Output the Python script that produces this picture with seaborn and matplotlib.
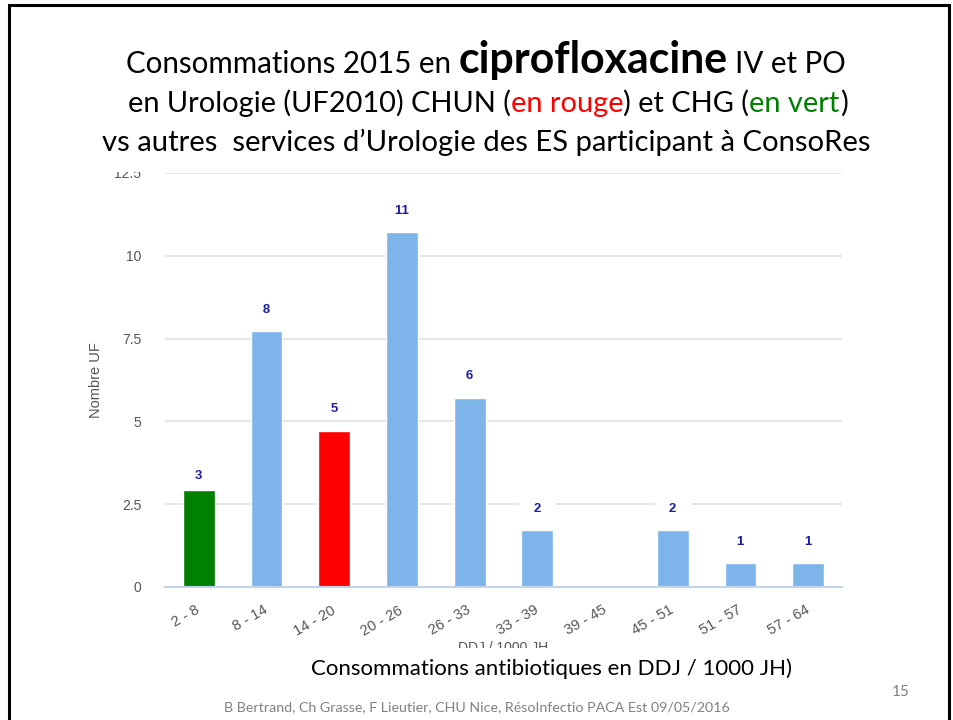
import numpy as np
import pandas as pd
import matplotlib
matplotlib.use("Agg")
import matplotlib.pyplot as plt
import seaborn as sns
from matplotlib.patches import Rectangle

# ---------------- data ----------------
categories = ["2 - 8", "8 - 14", "14 - 20", "20 - 26", "26 - 33",
              "33 - 39", "39 - 45", "45 - 51", "51 - 57", "57 - 64"]
bar_heights = [2.93, 7.72, 4.72, 10.72, 5.72, 1.72, 0.0, 1.72, 0.72, 0.72]
bar_labels = ["3", "8", "5", "11", "6", "2", "", "2", "1", "1"]
bar_colors = ["#008000", "#7db4ea", "#ff0000", "#7db4ea", "#7db4ea",
              "#7db4ea", "#7db4ea", "#7db4ea", "#7db4ea", "#7db4ea"]
y_ticks = [0, 2.5, 5, 7.5, 10, 12.5]
y_tick_labels = ["0", "2.5", "5", "7.5", "10", "12.5"]

sns.set_theme(style="white")
plt.rcParams["font.family"] = ["Liberation Sans", "DejaVu Sans"]
TITLE_FONT = ["Lato", "DejaVu Sans"]

W, H = 954, 720
fig = plt.figure(figsize=(W / 100, H / 100), dpi=100)
fig.patch.set_facecolor("white")

ax = fig.add_axes([165 / W, 1 - 587 / H, 677 / W, 414 / H])
df = pd.DataFrame({"cat": categories, "val": bar_heights})
sns.barplot(data=df, x="cat", y="val", hue="cat",
            palette=dict(zip(categories, bar_colors)), width=0.47,
            saturation=1, legend=False, ax=ax)

ax.set_xlim(-0.5, len(categories) - 0.5)
ax.set_ylim(0, 12.5)
ax.set_yticks(y_ticks)
ax.set_yticklabels(y_tick_labels)
ax.yaxis.grid(True, color="#e2e2e2", lw=1.2)
ax.xaxis.grid(False)
ax.set_axisbelow(True)
for s in ["top", "right", "left"]:
    ax.spines[s].set_visible(False)
ax.spines["bottom"].set_color("#c3d3ea")
ax.spines["bottom"].set_linewidth(1.5)
ax.set_xticks(np.arange(-0.5, len(categories), 1), minor=True)
ax.tick_params(axis="x", which="minor", length=10, width=1.5, color="#c3d3ea", direction="out")
ax.tick_params(axis="x", which="major", length=0, pad=16, labelsize=10.5,
               labelcolor="#555555", labelrotation=30)
ax.tick_params(axis="y", length=0, pad=17, labelsize=10, labelcolor="#555555")
for lab in ax.get_xticklabels():
    lab.set_ha("right")
    lab.set_va("center")
    lab.set_rotation_mode("anchor")

ax.set_ylabel("Nombre UF", fontsize=10.5, color="#555555")
ax.yaxis.set_label_coords(-0.0916, 0.5)
ax.set_xlabel("DDJ / 1000 JH", fontsize=10, color="#555555")
ax.xaxis.set_label_coords(0.5, -(641 - 587) / 414)
ax.xaxis.label.set_va("top")

for i, lab in enumerate(bar_labels):
    if not lab:
        continue
    ax.annotate("   " + lab + "   ", xy=(i, float(lab) + 0.36),
                ha="center", va="center", fontsize=9.5, fontweight="bold", color="#1c1ca8",
                bbox=dict(boxstyle="square,pad=0.25", fc="white", ec="none"), zorder=5)

# covers (clipped texts in the slide)
fig.add_artist(Rectangle((400 / W, 1 - 656 / H), 220 / W, 8 / H, transform=fig.transFigure,
                         fc="white", ec="none", zorder=5))
fig.add_artist(Rectangle((100 / W, 1 - 172 / H), 60 / W, 14 / H, transform=fig.transFigure,
                         fc="white", ec="none", zorder=5))

# slide border
fig.add_artist(Rectangle((9.5 / W, -0.1), (949.5 - 9.5) / W, 1.1 - 4.5 / H, transform=fig.transFigure,
                         fill=False, ec="black", lw=2.2, zorder=6))

renderer = fig.canvas.get_renderer()


def rich_line(parts, left_px, right_px, baseline_px, base=20):
    """parts: list of (text, color, weight, rel_size) or None for a space."""
    items = []
    for p in parts:
        if p is None:
            items.append(None)
            continue
        s, c, wgt, rel = p
        t = fig.text(0, 0, s, color=c, fontweight=wgt, fontsize=base * rel,
                     family=TITLE_FONT, ha="left", va="baseline", zorder=7)
        items.append(t)

    def space_w(size):
        a = fig.text(0, 0, "x x", fontsize=size, family=TITLE_FONT)
        b = fig.text(0, 0, "xx", fontsize=size, family=TITLE_FONT)
        w = a.get_window_extent(renderer).width - b.get_window_extent(renderer).width
        a.remove(); b.remove()
        return w

    def total(size):
        tw = 0
        for it in items:
            tw += space_w(size) if it is None else it.get_window_extent(renderer).width
        return tw

    tw = total(base)
    scale = (right_px - left_px) / tw
    for it in items:
        if it is not None:
            it.set_fontsize(it.get_fontsize() * scale)
    size = base * scale
    tw = total(size)
    x = left_px + ((right_px - left_px) - tw) / 2
    for it in items:
        if it is None:
            x += space_w(size)
        else:
            it.set_position((x / W, 1 - baseline_px / H))
            x += it.get_window_extent(renderer).width


rich_line([("Consommations 2015 en", "black", "normal", 1.0), None,
           ("ciprofloxacine", "black", "bold", 1.45), None,
           ("IV et PO", "black", "normal", 1.0)], 125, 847, 73)
rich_line([("en Urologie (UF2010) CHUN (", "black", "normal", 1.0),
           ("en rouge", "#ff0000", "normal", 1.0),
           (") et CHG (", "black", "normal", 1.0),
           ("en vert", "#008000", "normal", 1.0),
           (")", "black", "normal", 1.0)], 127, 848, 112)
rich_line([("vs autres  services d’Urologie des ES participant à ConsoRes", "black", "normal", 1.0)],
          101, 871, 151)
rich_line([("Consommations antibiotiques en DDJ / 1000 JH)", "black", "normal", 1.0)],
          311, 793, 675)
rich_line([("B Bertrand, Ch Grasse, F Lieutier, CHU Nice, RésoInfectio PACA Est 09/05/2016",
            "#808080", "normal", 1.0)], 224, 730, 711)
fig.text(910 / W, 1 - 696 / H, "15", ha="right", va="baseline", fontsize=11,
         color="#808080", family=TITLE_FONT, zorder=7)

fig.savefig("out.png", dpi=100, facecolor="white")
